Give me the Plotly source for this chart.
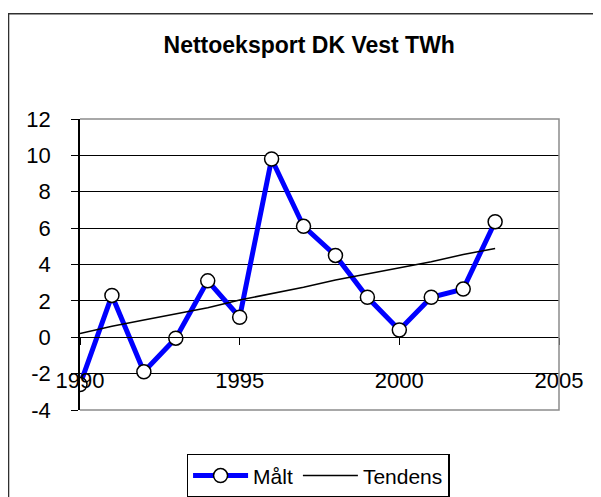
import plotly.graph_objects as go

years = [1990, 1991, 1992, 1993, 1994, 1995, 1996, 1997, 1998, 1999, 2000, 2001, 2002, 2003]
maalt = [-2.6, 2.3, -1.9, -0.05, 3.1, 1.1, 9.8, 6.1, 4.5, 2.2, 0.4, 2.2, 2.65, 6.35]
tendens = [0.2, 0.6, 0.95, 1.3, 1.62, 2.05, 2.4, 2.75, 3.15, 3.47, 3.8, 4.15, 4.55, 4.88]

title_text = "Nettoeksport DK Vest TWh"
series_names = ["Målt", "Tendens"]
y_ticks = [-4, -2, 0, 2, 4, 6, 8, 10, 12]
y_ticklabels = ["-4", "-2", "0", "2", "4", "6", "8", "10", "12"]
x_ticks = [1990, 1995, 2000, 2005]
x_ticklabels = ["1990", "1995", "2000", "2005"]

FONT = "Liberation Sans, Arial, sans-serif"

fig = go.Figure()
fig.add_trace(go.Scatter(
    x=years, y=maalt, name=series_names[0], mode="lines+markers",
    line=dict(color="#0000FF", width=5),
    marker=dict(symbol="circle", size=14, color="white",
                line=dict(color="black", width=1.5)),
))
fig.add_trace(go.Scatter(
    x=years, y=tendens, name=series_names[1], mode="lines",
    line=dict(color="black", width=1.5),
))

# plot area border (top, right, bottom) in gray
fig.add_shape(type="path", xref="paper", yref="paper",
              path="M 0 1 L 1 1 L 1 0 L 0 0",
              line=dict(color="#8c8c8c", width=1.5), layer="above")
# outer chart frame (left and top edges visible)
fig.add_shape(type="path", xref="paper", yref="paper",
              path="M -0.1492 -0.5 L -0.1492 1.362 L 1.3 1.362",
              line=dict(color="#303030", width=1.5), layer="above")

fig.update_layout(
    width=593, height=489,
    margin=dict(l=72, r=42, t=111, b=87, autoexpand=False),
    paper_bgcolor="white", plot_bgcolor="white",
    font=dict(family=FONT, size=22, color="black"),
    title=dict(text="<b>" + title_text + "</b>", x=0.508, xanchor="center",
               y=0.924, yanchor="middle", font=dict(size=23, family=FONT)),
    showlegend=True,
    legend=dict(orientation="h", x=0.497, xanchor="center", y=-0.151, yanchor="top",
                bordercolor="black", borderwidth=1.5, bgcolor="white",
                font=dict(size=21, family=FONT), itemwidth=55),
    xaxis=dict(range=[1990, 2005], tickvals=x_ticks, ticktext=x_ticklabels,
               ticks="outside", ticklen=7,
               tickcolor="black", showgrid=False, zeroline=False,
               showline=True, linecolor="black", linewidth=1,
               anchor="free", position=0.25, ticklabelstandoff=16,
               tickfont=dict(size=22)),
    yaxis=dict(range=[-4, 12], tickvals=y_ticks, ticktext=y_ticklabels,
               ticks="outside", ticklen=7,
               tickcolor="black", showgrid=True, gridcolor="black", gridwidth=1,
               zeroline=False, showline=True, linecolor="black", linewidth=1.5,
               ticklabelstandoff=16, tickfont=dict(size=22)),
)

fig.write_html("out.html")
